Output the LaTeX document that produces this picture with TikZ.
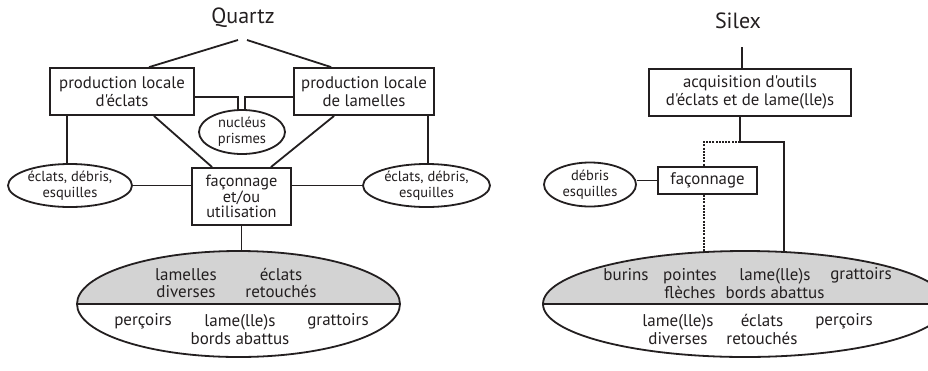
\documentclass[tikz,border=0pt]{standalone}
\usepackage{fontspec}
\setmainfont{PT Sans}[Ligatures=TeXOff]
\usetikzlibrary{shapes.geometric,calc}
\definecolor{ink}{RGB}{35,31,32}
\definecolor{fillgr}{RGB}{211,211,211}
\begin{document}
\begin{tikzpicture}[x=1pt,y=-1pt,
  every node/.style={text=ink, inner sep=0pt},
  ln/.style={draw=ink, line width=1.8pt},
  boxn/.style={draw=ink, line width=1.8pt, align=center, font=\fontsize{16.8}{18.5}\selectfont},
  ovaln/.style={draw=ink, ellipse, line width=1.8pt, align=center, font=\fontsize{14.5}{16}\selectfont},
  bigoval/.style={draw=ink, ellipse, line width=1.8pt, path picture={\fill[fillgr] (path picture bounding box.north west) rectangle (path picture bounding box.east);}},
  txt/.style={align=center, font=\fontsize{17}{17.5}\selectfont},
  titlen/.style={font=\fontsize{22}{24}\selectfont},
  dsh/.style={dash pattern=on 2pt off 1.2pt}
]
\useasboundingbox[fill=white] (0,0) rectangle (928,370);

% ---------- Quartz ----------
\node[titlen] (quartz) at (243,18) {Quartz};
\coordinate (qa) at (238,40);
\coordinate (qb) at (247,40);
\node[boxn, minimum width=144, minimum height=47] (pa) at (122,91.5) {production locale\\d'éclats};
\node[boxn, minimum width=140, minimum height=47] (pb) at (364,91.5) {production locale\\de lamelles};
\node[ovaln, minimum width=86, minimum height=44] (nuc) at (242,132) {nucléus\\prismes};
\node[boxn, minimum width=99, minimum height=57, font=\fontsize{16.3}{15.2}\selectfont] (fa) at (241.5,196.5) {façonnage\\et/ou\\utilisation};
\node[ovaln, minimum width=124, minimum height=43] (e1) at (70,185.5) {éclats, débris,\\esquilles};
\node[ovaln, minimum width=127, minimum height=43] (e2) at (426.5,185.5) {éclats, débris,\\esquilles};
\node[bigoval, minimum width=323, minimum height=106] (bl) at (238.5,304) {};
\draw[ln] (bl.west) -- (bl.east);

\node[txt] (l1) at (186,283) {lamelles\\diverses};
\node[txt] (l2) at (281,283) {éclats\\retouchés};
\node[txt] (l3) at (143,321) {perçoirs};
\node[txt] (l4) at (240,329.5) {lame(lle)s\\bords abattus};
\node[txt] (l5) at (338,321) {grattoirs};

\draw[ln] (qa) -- ([xshift=100pt]pa.north west);
\draw[ln] (qb) -- ([xshift=38pt]pb.north west);
\draw[ln] ([yshift=-5.5pt]pa.east) -| ([xshift=-4pt]nuc.north);
\draw[ln] ([yshift=-5.5pt]pb.west) -| ([xshift=3pt]nuc.north);
\draw[ln] ([xshift=-41pt]pa.south east) -- ([xshift=21pt]fa.north west);
\draw[ln] ([xshift=41pt]pb.south west) -- ([xshift=-21pt]fa.north east);
\draw[ln] ([xshift=18pt]pa.south west) -- ([xshift=18pt]pa.south west |- e1.north);
\draw[ln] ([xshift=-7pt]pb.south east) -- ([xshift=-7pt]pb.south east |- e2.north);
\draw[ln] (e1.east) -- (e1.east -| fa.west);
\draw[ln] (fa.east |- e2.west) -- (e2.west);
\draw[ln] (fa.south) -- (fa.south |- bl.north);

% ---------- Silex ----------
\node[titlen] (silex) at (738,21) {Silex};
\coordinate (sa) at (742,47);
\node[boxn, minimum width=202, minimum height=47] (acq) at (750,92.5) {acquisition d'outils\\d'éclats et de lame(lle)s};
\node[boxn, minimum width=99, minimum height=27] (fb) at (707.5,180.5) {façonnage};
\node[ovaln, minimum width=92, minimum height=44] (db) at (590,184.5) {débris\\esquilles};
\node[bigoval, minimum width=404, minimum height=106] (br) at (745,304) {};
\draw[ln] (br.west) -- (br.east);

\node[txt] (r1) at (626,275) {burins};
\node[txt] (r2) at (690,283.5) {pointes\\flèches};
\node[txt] (r3) at (775,283.5) {lame(lle)s\\bords abattus};
\node[txt] (r4) at (861,275) {grattoirs};
\node[txt] (r5) at (678,329.5) {lame(lle)s\\diverses};
\node[txt] (r6) at (762,329.5) {éclats\\retouchés};
\node[txt] (r7) at (844,321) {perçoirs};

\coordinate (j) at (740,142);
\coordinate (jl) at (704,142);
\coordinate (jr) at (784,142);
\draw[ln] (sa) -- (sa |- acq.north);
\draw[ln] (acq.south -| j) -- (j);
\draw[ln, dsh] (j) -- (jl) -- (jl |- fb.north);
\draw[ln, dsh] (jl |- fb.south) -- ($(jl |- br.north)+(0,1)$);
\draw[ln] (j) -- (jr) -- ($(jr |- br.north)+(0,0.8)$);
\draw[ln] (db.east |- fb.west) -- (fb.west);
\end{tikzpicture}
\end{document}
